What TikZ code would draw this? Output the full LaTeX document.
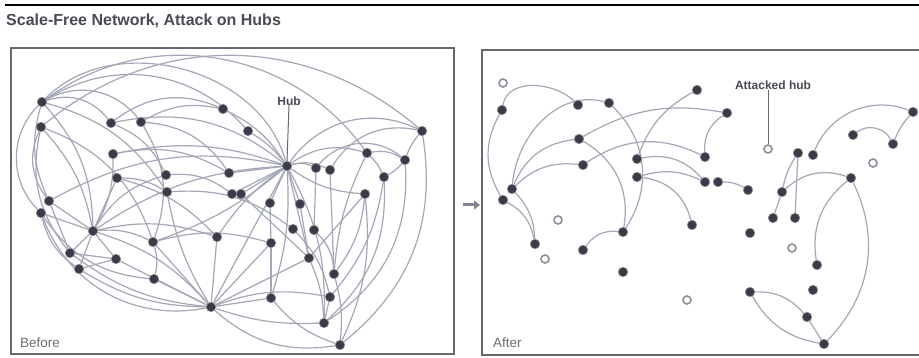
\documentclass[tikz,border=0pt]{standalone}
\usepackage{fontspec}
\setmainfont{Liberation Sans}
\usetikzlibrary{backgrounds,arrows.meta}
\definecolor{edgec}{HTML}{A4A7B6}
\definecolor{dotc}{HTML}{3A3A48}
\definecolor{framec}{HTML}{66666E}
\definecolor{textc}{HTML}{4A4A54}
\tikzset{
  dot/.style={circle,fill=dotc,draw=dotc!60!white,line width=0.6pt,inner sep=0pt,minimum size=9.5pt},
  hole/.style={circle,fill=white,draw=edgec!85!black,line width=1.6pt,inner sep=0pt,minimum size=8pt},
  link/.style={draw=edgec,line width=1.2pt},
  frame/.style={draw=framec,line width=1.2pt},
  lbl/.style={text=textc,font=\fontsize{12}{14}\selectfont\bfseries,inner sep=0pt},
  corner/.style={text=textc!80!white,font=\fontsize{13.5}{15}\selectfont,inner sep=0pt,anchor=west},
}
\begin{document}
\begin{tikzpicture}[x=1pt,y=1pt]
\begin{scope}[on background layer]
\fill[white] (0,0) rectangle (919,358);
\end{scope}
\useasboundingbox (0,0) rectangle (919,358);

% heading and rules
\draw[black,line width=2.5pt] (5,353) -- (919,353);
\node[anchor=west,text=textc,inner sep=0pt,font=\fontsize{16}{18}\selectfont\bfseries] (title) at (6,337) {Scale-Free Network, Attack on Hubs};
\draw[frame] (11,4) rectangle (454,310);
\draw[frame] (919,308) -- (482,308) -- (482,3) -- (919,3);
\node[corner] (before) at (20,15) {Before};
\node[corner] (after) at (493,15) {After};
\coordinate (arrA) at (463,153);
\coordinate (arrB) at (480,153);
\draw[edgec!80!black,line width=3pt,-{Triangle[length=6pt,width=9pt]}] (arrA) -- (arrB);

% ---------- network before the attack ----------
\node[dot] (b1) at (42,256) {};
\node[dot] (b2) at (41,231) {};
\node[dot] (b3) at (111,235) {};
\node[dot] (b4) at (141,236) {};
\node[dot] (b5) at (223,249) {};
\node[dot] (b6) at (113,204) {};
\node[dot] (b7) at (117,180) {};
\node[dot] (b8) at (166,183) {};
\node[dot] (b9) at (167,166) {};
\node[dot] (b10) at (229,185) {};
\node[dot] (b11) at (232,164) {};
\node[dot] (b12) at (241,164) {};
\node[dot] (hub) at (287,192) {};
\node[dot] (b13) at (248,227) {};
\node[dot] (b14) at (316,190) {};
\node[dot] (b15) at (330,188) {};
\node[dot] (b16) at (422,227) {};
\node[dot] (b17) at (367,205) {};
\node[dot] (b18) at (405,198) {};
\node[dot] (b19) at (384,181) {};
\node[dot] (b20) at (365,164) {};
\node[dot] (b21) at (49,157) {};
\node[dot] (b22) at (41,145) {};
\node[dot] (b23) at (93,127) {};
\node[dot] (b24) at (153,116) {};
\node[dot] (b25) at (70,105) {};
\node[dot] (b26) at (116,99) {};
\node[dot] (b27) at (79,89) {};
\node[dot] (b28) at (154,79) {};
\node[dot] (b29) at (217,121) {};
\node[dot] (b30) at (211,51) {};
\node[dot] (b31) at (270,155) {};
\node[dot] (b32) at (300,154) {};
\node[dot] (b33) at (293,129) {};
\node[dot] (b34) at (314,128) {};
\node[dot] (b35) at (271,115) {};
\node[dot] (b36) at (309,100) {};
\node[dot] (b37) at (334,84) {};
\node[dot] (b38) at (271,60) {};
\node[dot] (b39) at (330,61) {};
\node[dot] (b40) at (324,35) {};
\node[dot] (b41) at (340,13) {};

\node[lbl] (hubl) at (289,257) {Hub};
\draw[framec,line width=1pt] (hubl.south) -- (hub.north);

\begin{scope}[on background layer]
% long arcs across the top
\draw[link] (b1) to[bend left=60] (hub);
\draw[link] (b2) to[bend left=40] (b16);
\draw[link] (b1) to[bend left=45] (b17);
\draw[link] (b1) to[bend left=40] (b13);
\draw[link] (b1) to[bend left=35] (b3);
\draw[link] (b1) to[bend left=40] (b4);
\draw[link] (b3) to[bend left=30] (b5);
\draw[link] (b4) to[bend left=20] (b5);
% spokes of the hub
\draw[link] (b5) to[bend left=15] (hub);
\draw[link] (b13) to[bend left=10] (hub);
\draw[link] (b16) to[bend right=40] (hub);
\draw[link] (hub) to[bend left=20] (b14);
\draw[link] (hub) to[bend left=20] (b15);
\draw[link] (hub) to[bend left=25] (b17);
\draw[link] (hub) to[bend right=15] (b20);
\draw[link] (hub) -- (b31);
\draw[link] (hub) -- (b32);
\draw[link] (hub) -- (b12);
\draw[link] (hub) -- (b11);
\draw[link] (hub) -- (b10);
\draw[link] (hub) to[bend right=10] (b29);
\draw[link] (hub) to[bend left=10] (b24);
\draw[link] (hub) to[bend right=15] (b23);
\draw[link] (hub) to[bend right=20] (b21);
\draw[link] (hub) to[bend right=15] (b6);
\draw[link] (hub) -- (b30);
\draw[link] (hub) to[bend left=10] (b38);
\draw[link] (hub) to[bend left=15] (b40);
\draw[link] (hub) -- (b36);
\draw[link] (hub) to[bend right=25] (b3);
% right-hand cluster
\draw[link] (b14) to[bend left=45] (b18);
\draw[link] (b15) to[bend left=35] (b16);
\draw[link] (b17) to[bend left=20] (b18);
\draw[link] (b16) to[bend right=10] (b18);
\draw[link] (b17) to[bend left=10] (b19);
\draw[link] (b18) to[bend left=10] (b19);
\draw[link] (b16) to[bend left=30] (b41);
\draw[link] (b18) to[bend left=30] (b40);
\draw[link] (b20) to[bend left=15] (b41);
\draw[link] (b19) to[bend left=15] (b39);
\draw[link] (b17) to[bend right=10] (b37);
\draw[link] (b19) to[bend left=25] (b40);
\draw[link] (b20) to[bend left=15] (b37);
\draw[link] (b20) -- (b36);
\draw[link] (b14) -- (b34);
\draw[link] (b15) -- (b37);
% second hub, bottom left
\draw[link] (b1) to[bend left=20] (b23);
\draw[link] (b2) to[bend left=15] (b23);
\draw[link] (b23) to[bend right=15] (b6);
\draw[link] (b23) -- (b7);
\draw[link] (b23) to[bend left=20] (b8);
\draw[link] (b23) -- (b25);
\draw[link] (b23) -- (b26);
\draw[link] (b23) -- (b27);
\draw[link] (b23) to[bend left=15] (b24);
\draw[link] (b23) to[bend left=15] (b29);
\draw[link] (b23) to[bend left=15] (b30);
\draw[link] (b21) -- (b23);
\draw[link] (b22) -- (b23);
% third hub, bottom
\draw[link] (b22) to[bend right=40] (b30);
\draw[link] (b25) to[bend right=15] (b30);
\draw[link] (b26) -- (b30);
\draw[link] (b27) to[bend right=15] (b30);
\draw[link] (b24) -- (b30);
\draw[link] (b29) -- (b30);
\draw[link] (b35) -- (b30);
\draw[link] (b36) -- (b30);
\draw[link] (b9) to[bend right=10] (b30);
\draw[link] (b28) -- (b30);
\draw[link] (b30) to[bend right=25] (b41);
\draw[link] (b30) to[bend right=10] (b40);
\draw[link] (b30) to[bend left=15] (b39);
\draw[link] (b30) -- (b38);
% left edge
\draw[link] (b1) to[bend right=45] (b22);
\draw[link] (b2) to[bend right=30] (b21);
\draw[link] (b1) to[bend right=20] (b21);
\draw[link] (b2) to[bend right=25] (b25);
\draw[link] (b21) -- (b25);
\draw[link] (b22) to[bend right=20] (b27);
\draw[link] (b22) to[bend right=25] (b28);
\draw[link] (b25) -- (b26);
\draw[link] (b27) -- (b26);
% middle
\draw[link] (b1) to[bend left=20] (b9);
\draw[link] (b2) to[bend left=25] (b24);
\draw[link] (b3) to[bend left=20] (b8);
\draw[link] (b4) to[bend left=25] (b10);
\draw[link] (b6) to[bend left=20] (b10);
\draw[link] (b7) to[bend left=15] (b9);
\draw[link] (b7) to[bend left=15] (b29);
\draw[link] (b8) to[bend left=20] (b11);
\draw[link] (b9) to[bend left=20] (b33);
\draw[link] (b4) to[bend left=25] (b24);
\draw[link] (b24) to[bend left=15] (b35);
\draw[link] (b24) to[bend left=15] (b28);
\draw[link] (b31) -- (b35);
\draw[link] (b32) -- (b36);
\draw[link] (b33) to[bend left=15] (b39);
\draw[link] (b34) to[bend left=20] (b37);
\draw[link] (b36) to[bend left=10] (b40);
\draw[link] (b37) to[bend left=10] (b41);
\draw[link] (b39) -- (b40);
\draw[link] (b35) -- (b38);
\draw[link] (b38) to[bend right=15] (b41);
\draw[link] (b12) -- (b36);
\end{scope}

% ---------- network after the attack ----------
\node[hole] (h1) at (503,275) {};
\node[hole] (h2) at (558,138) {};
\node[hole] (h3) at (545,99) {};
\node[hole] (h4) at (687,58) {};
\node[hole] (hh) at (768,209) {};
\node[hole] (h5) at (792,110) {};
\node[hole] (h6) at (873,195) {};
\node[dot] (a1) at (502,248) {};
\node[dot] (a2) at (578,253) {};
\node[dot] (a3) at (609,255) {};
\node[dot] (a4) at (697,268) {};
\node[dot] (a5) at (727,245) {};
\node[dot] (a6) at (579,219) {};
\node[dot] (a7) at (583,193) {};
\node[dot] (a8) at (637,199) {};
\node[dot] (a9) at (637,181) {};
\node[dot] (a10) at (705,201) {};
\node[dot] (a11) at (705,176) {};
\node[dot] (a12) at (718,176) {};
\node[dot] (a13) at (512,169) {};
\node[dot] (a14) at (503,158) {};
\node[dot] (a15) at (535,114) {};
\node[dot] (a16) at (623,126) {};
\node[dot] (a17) at (583,108) {};
\node[dot] (a18) at (692,133) {};
\node[dot] (a19) at (623,86) {};
\node[dot] (a20) at (748,168) {};
\node[dot] (a21) at (782,166) {};
\node[dot] (a22) at (798,205) {};
\node[dot] (a23) at (813,203) {};
\node[dot] (a24) at (913,246) {};
\node[dot] (a25) at (853,223) {};
\node[dot] (a26) at (893,214) {};
\node[dot] (a27) at (851,180) {};
\node[dot] (a28) at (750,125) {};
\node[dot] (a29) at (773,140) {};
\node[dot] (a30) at (795,140) {};
\node[dot] (a31) at (817,93) {};
\node[dot] (a32) at (813,68) {};
\node[dot] (a33) at (750,66) {};
\node[dot] (a34) at (807,41) {};
\node[dot] (a35) at (824,14) {};

\node[lbl] (hhl) at (773,273) {Attacked hub};
\draw[framec,line width=1pt] (hhl.south -| hh) -- (hh.north);

\begin{scope}[on background layer]
\draw[link] (a1) to[out=80,in=135] (a2);
\draw[link] (a1) to[bend right=30] (a14);
\draw[link] (a13) to[out=85,in=165] (a3);
\draw[link] (a3) to[bend left=40] (a16);
\draw[link] (a6) to[bend left=35] (a16);
\draw[link] (a6) to[bend left=20] (a5);
\draw[link] (a7) to[bend left=30] (a10);
\draw[link] (a13) to[bend left=30] (a6);
\draw[link] (a13) to[bend left=25] (a7);
\draw[link] (a8) to[bend left=20] (a4);
\draw[link] (a8) to[bend left=30] (a11);
\draw[link] (a9) to[bend left=20] (a11);
\draw[link] (a9) to[bend left=35] (a18);
\draw[link] (a5) to[bend right=30] (a10);
\draw[link] (a12) to[bend left=15] (a20);
\draw[link] (a13) to[bend left=20] (a15);
\draw[link] (a14) to[bend left=25] (a15);
\draw[link] (a16) to[bend right=30] (a17);
\draw[link] (a22) to[bend right=10] (a21);
\draw[link] (a22) -- (a30);
\draw[link] (a21) -- (a29);
\draw[link] (a21) to[bend left=30] (a27);
\draw[link] (a23) to[bend left=45] (a24);
\draw[link] (a24) to[bend right=10] (a26);
\draw[link] (a25) to[bend left=50] (a26);
\draw[link] (a27) to[bend left=35] (a35);
\draw[link] (a27) to[bend right=30] (a31);
\draw[link] (a33) to[bend left=25] (a34);
\draw[link] (a33) to[bend right=25] (a35);
\draw[link] (a34) -- (a35);
\end{scope}
\end{tikzpicture}
\end{document}
